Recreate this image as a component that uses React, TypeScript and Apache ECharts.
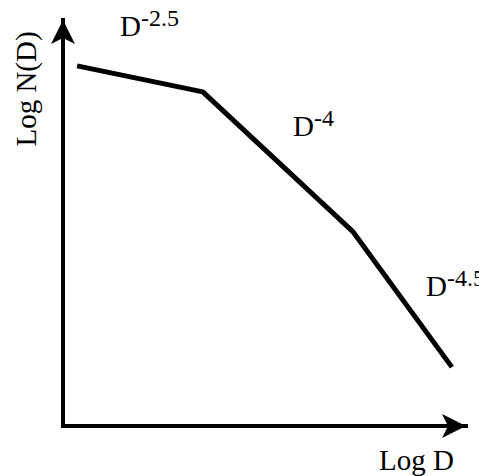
import React, { useEffect, useRef } from "react";
import * as echarts from "echarts";

// Break-point positions of the piece-wise power law (arbitrary log units)
const logD = [3.5, 34.7, 72.0, 96.5];
const logN = [88.7, 82.3, 47.8, 14.5];

// Slope annotations
const slopeBase = ["D", "D", "D"];
const slopeExp = ["-2.5", "-4", "-4.5"];

const xAxisTitle = "Log D";
const yAxisTitle = "Log N(D)";

const FONT = "'Liberation Serif', 'Times New Roman', serif";

export default function App() {
  const ref = useRef<HTMLDivElement>(null);

  useEffect(() => {
    document.body.style.margin = "0";
    if (!ref.current) return;
    const chart = echarts.init(ref.current, undefined, { renderer: "svg" });

    const axisCommon = {
      type: "value" as const,
      min: 0,
      max: 100,
      axisLabel: { show: false },
      axisTick: { show: false },
      splitLine: { show: false },
      axisLine: {
        show: true,
        onZero: false,
        symbol: ["none", "arrow"],
        symbolSize: [18, 24],
        lineStyle: { color: "#000", width: 4, cap: "square" as const },
      },
    };

    const annPos = [
      { dx: 120, dy: 11.7, sx: 141, sy: 5.7 },
      { dx: 293, dy: 111.7, sx: 314, sy: 105.7 },
      { dx: 426, dy: 271.7, sx: 447, sy: 265.7 },
    ];

    const graphics: any[] = [];
    slopeBase.forEach((b, i) => {
      graphics.push({
        type: "text",
        x: annPos[i].dx,
        y: annPos[i].dy,
        style: { text: b, font: `29px ${FONT}`, fill: "#000", align: "left", verticalAlign: "top" },
      });
      graphics.push({
        type: "text",
        x: annPos[i].sx,
        y: annPos[i].sy,
        style: { text: slopeExp[i], font: `24px ${FONT}`, fill: "#000", align: "left", verticalAlign: "top" },
      });
    });
    graphics.push({
      type: "text",
      x: 379,
      y: 445.7,
      style: { text: xAxisTitle, font: `29px ${FONT}`, fill: "#000", align: "left", verticalAlign: "top" },
    });
    graphics.push({
      type: "text",
      x: 26,
      y: 89,
      rotation: Math.PI / 2,
      style: { text: yAxisTitle, font: `29px ${FONT}`, fill: "#000", align: "center", verticalAlign: "middle" },
    });

    chart.setOption({
      animation: false,
      backgroundColor: "#fff",
      grid: { left: 63, top: 20, right: 13, bottom: 50, containLabel: false },
      xAxis: axisCommon,
      yAxis: axisCommon,
      series: [
        {
          type: "line",
          data: logD.map((x, i) => [x, logN[i]]),
          showSymbol: false,
          symbol: "none",
          lineStyle: { color: "#000", width: 5 },
          silent: true,
        },
      ],
      graphic: graphics,
    });

    return () => chart.dispose();
  }, []);

  return <div ref={ref} style={{ width: 479, height: 476 }} />;
}
